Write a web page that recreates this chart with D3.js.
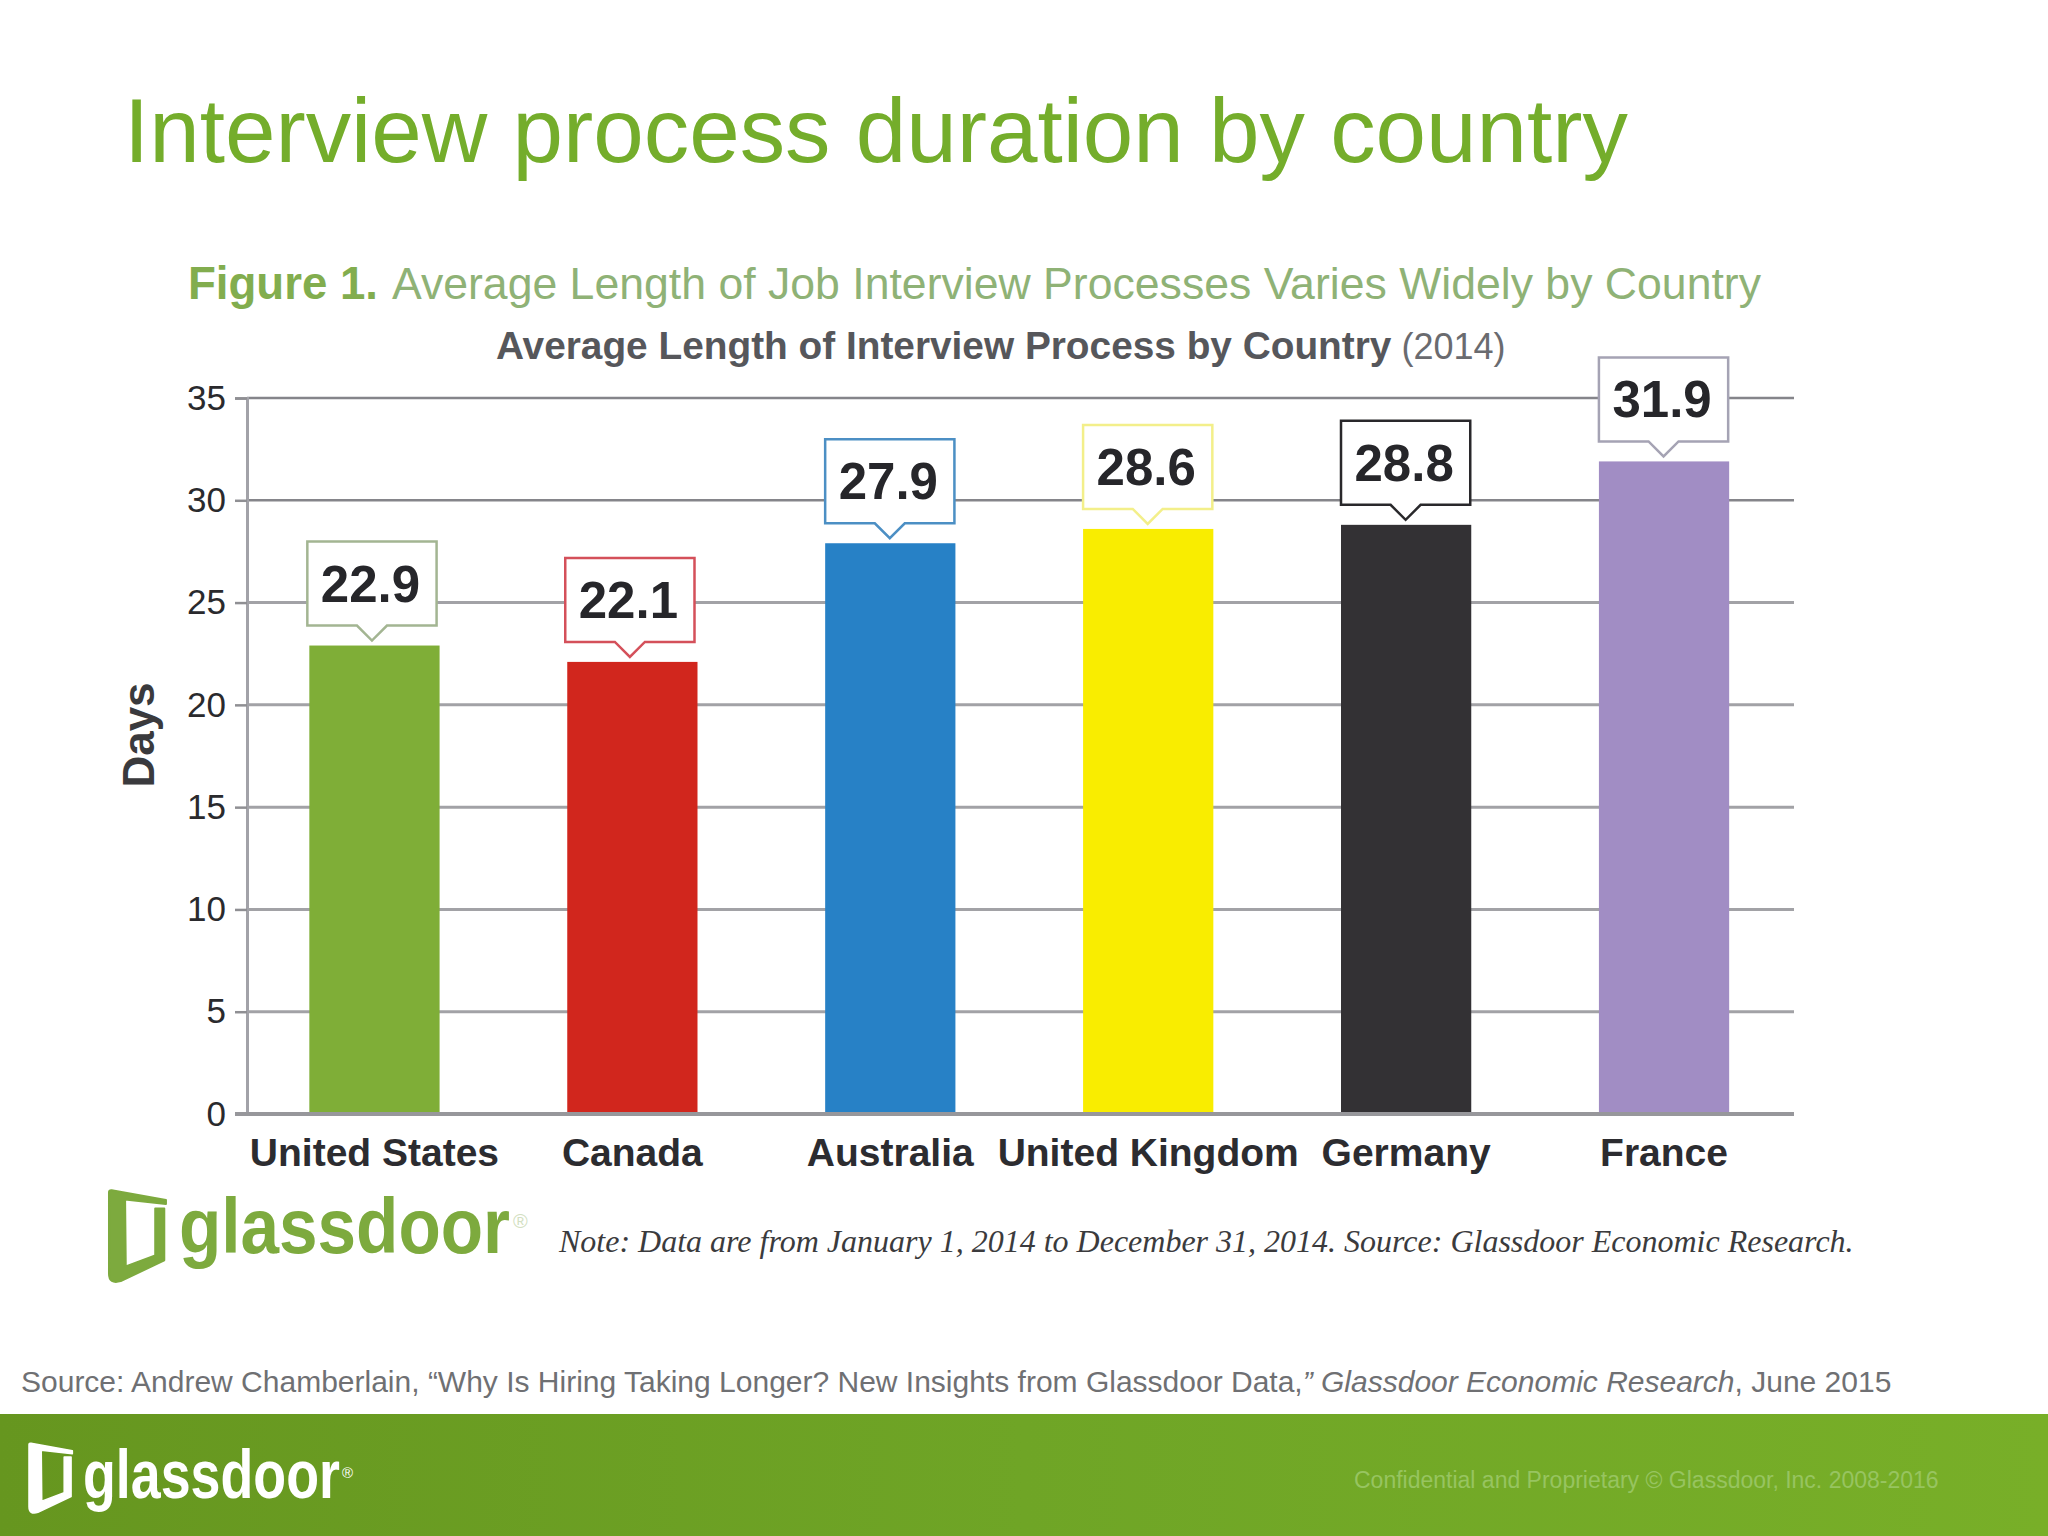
<!DOCTYPE html>
<html>
<head>
<meta charset="utf-8">
<title>Interview process duration by country</title>
<script src="https://cdn.jsdelivr.net/npm/d3@7"></script>
<style>
  html, body { margin: 0; padding: 0; background: #fff; }
  svg { display: block; }
  text { font-family: "Liberation Sans", Arial, sans-serif; }
</style>
</head>
<body>
<svg id="chart" width="2048" height="1536"></svg>
<script>
// chart values
const countries = ["United States", "Canada", "Australia", "United Kingdom", "Germany", "France"];
const days = [22.9, 22.1, 27.9, 28.6, 28.8, 31.9];
const barColors = ["#7fae37", "#d1261d", "#2781c6", "#f9ed00", "#333134", "#a18dc4"];
const calloutColors = ["#a3b592", "#d4505a", "#4c8fc4", "#f3ef8a", "#29282b", "#a5a3b4"];
const yTicks = [0, 5, 10, 15, 20, 25, 30, 35];

const svg = d3.select("#chart");

const x = d3.scaleBand()
  .domain(countries)
  .range([245.5, 1793])
  .paddingInner(0.495)
  .paddingOuter(0.2475);

const y = d3.scaleLinear().domain([0, 35]).range([1114, 398]);

const axisX = 247, axisRight = 1794;

// footer band
const grad = svg.append("defs").append("linearGradient").attr("id", "footerGrad");
grad.append("stop").attr("offset", "0").attr("stop-color", "#66961f");
grad.append("stop").attr("offset", "0.5").attr("stop-color", "#6fa526");
grad.append("stop").attr("offset", "1").attr("stop-color", "#78af28");

svg.append("rect")
  .attr("y", 1414).attr("width", 2048).attr("height", 122)
  .attr("fill", "url(#footerGrad)");

// headings
svg.append("text")
  .attr("x", 124).attr("y", 162)
  .attr("font-size", 90.8).attr("fill", "#74ad2b")
  .text("Interview process duration by country");

const figTitle = svg.append("text")
  .attr("x", 188).attr("y", 299)
  .attr("fill", "#8fb276");
figTitle.append("tspan").attr("font-size", 45.6).attr("font-weight", "bold").attr("fill", "#82ad4e").text("Figure 1.");
figTitle.append("tspan").attr("font-size", 44.6).attr("dx", 4).text(" Average Length of Job Interview Processes Varies Widely by Country");

const subTitle = svg.append("text")
  .attr("x", 496).attr("y", 359)
  .attr("fill", "#56575b");
subTitle.append("tspan").attr("font-size", 38.8).attr("font-weight", "bold").text("Average Length of Interview Process by Country");
subTitle.append("tspan").attr("font-size", 36).attr("fill", "#6a6b6f").text(" (2014)");

// gridlines
svg.append("g").selectAll("line")
  .data(yTicks.filter(d => d > 0))
  .join("line")
  .attr("x1", axisX).attr("x2", axisRight)
  .attr("y1", d => y(d)).attr("y2", d => y(d))
  .attr("stroke", d => d >= 30 ? "#85858a" : "#a2a2a6")
  .attr("stroke-width", d => d >= 30 ? 2.5 : 3);

// y axis
const gy = svg.append("g")
  .attr("transform", `translate(${axisX},0)`)
  .call(d3.axisLeft(y).tickValues(yTicks).tickSize(12).tickPadding(9));
gy.selectAll("text")
  .attr("font-size", 35).attr("fill", "#2a2a2d")
  .style("font-family", "'Liberation Sans', Arial, sans-serif");
gy.selectAll("line").attr("stroke", "#8f8f93").attr("stroke-width", 2.5);
gy.select(".domain").attr("stroke", "#a2a2a8").attr("stroke-width", 3);

svg.append("text")
  .attr("transform", "translate(154,735) rotate(-90)")
  .attr("text-anchor", "middle")
  .attr("font-size", 44).attr("font-weight", "bold").attr("fill", "#3a3a3d")
  .text("Days");

// bars
svg.append("g").selectAll("rect")
  .data(days)
  .join("rect")
  .attr("x", (d, i) => x(countries[i]))
  .attr("y", d => y(d))
  .attr("width", x.bandwidth())
  .attr("height", d => y(0) - y(d))
  .attr("fill", (d, i) => barColors[i]);

// baseline
svg.append("line")
  .attr("x1", axisX - 12).attr("x2", axisRight)
  .attr("y1", y(0)).attr("y2", y(0))
  .attr("stroke", "#97979b").attr("stroke-width", 4);

// x labels
svg.append("g").selectAll("text")
  .data(countries)
  .join("text")
  .attr("x", d => x(d) + x.bandwidth() / 2)
  .attr("y", 1166)
  .attr("text-anchor", "middle")
  .attr("font-size", 39).attr("font-weight", "bold").attr("fill", "#2c2c30")
  .text(d => d);

// value callouts above each bar
const calloutGap = 20, calloutH = 84, pointer = 15;
const callouts = svg.append("g").selectAll("g")
  .data(days)
  .join("g")
  .attr("transform", (d, i) => `translate(${x(countries[i]) + (i < 2 ? -2 : 0)},${y(d) - calloutGap})`);

callouts.append("path")
  .attr("d", () => {
    const w = x.bandwidth() - 1, mid = w / 2;
    return `M0,0 V${-calloutH} H${w} V0 H${mid + pointer} L${mid},${pointer} L${mid - pointer},0 Z`;
  })
  .attr("fill", "#fff")
  .attr("stroke", (d, i) => calloutColors[i])
  .attr("stroke-width", 2.5);

callouts.append("text")
  .attr("x", x.bandwidth() / 2 - 2)
  .attr("y", -24)
  .attr("text-anchor", "middle")
  .attr("font-size", 51).attr("font-weight", "bold").attr("fill", "#26262a")
  .text(d => d.toFixed(1));

// door icon, drawn in a 170 x 275 box
const doorPath = "M0,6 Q0,0 8,1 L170,30 L170,42 L48,28 L50,228 L138,195 L138,55 L165,55 L165,210 L35,272 Q0,282 0,250 Z";

function logo(dx, dy, doorScale, textX, baseline, size, width, color, regColor, regX, regY, regSize) {
  svg.append("path")
    .attr("d", doorPath)
    .attr("transform", `translate(${dx},${dy}) scale(${doorScale})`)
    .attr("fill", color)
    .attr("stroke", color).attr("stroke-width", 6).attr("stroke-linejoin", "round");
  // no narrow font installed, so squeeze the bold face to the logo's width
  const word = svg.append("text")
    .attr("font-size", size).attr("font-weight", "bold").attr("fill", color)
    .text("glassdoor");
  const squeeze = width / word.node().getComputedTextLength();
  word.attr("transform", `translate(${textX},${baseline}) scale(${squeeze},1)`);
  svg.append("text")
    .attr("x", regX).attr("y", regY)
    .attr("font-size", regSize).attr("fill", regColor)
    .text("®");
}

logo(109, 1190, 0.335, 179, 1253, 78, 331, "#7daa3e", "#d3dfc2", 513, 1228, 20);
logo(29, 1443, 0.255, 83, 1498, 68, 257, "#ffffff", "#ffffff", 342, 1478, 15);

// note and source lines
svg.append("text")
  .attr("x", 559).attr("y", 1252)
  .attr("font-size", 32).attr("font-style", "italic").attr("fill", "#3b3b3d")
  .style("font-family", "'Liberation Serif', serif")
  .text("Note: Data are from January 1, 2014 to December 31, 2014. Source: Glassdoor Economic Research.");

const source = svg.append("text")
  .attr("x", 21).attr("y", 1392)
  .attr("font-size", 30).attr("fill", "#6f7073");
source.append("tspan").text("Source: Andrew Chamberlain, “Why Is Hiring Taking Longer? New Insights from Glassdoor Data,");
source.append("tspan").attr("font-style", "italic").text("” Glassdoor Economic Research");
source.append("tspan").text(", June 2015");

svg.append("text")
  .attr("x", 1354).attr("y", 1488)
  .attr("font-size", 23).attr("fill", "#97c460")
  .text("Confidential and Proprietary © Glassdoor, Inc. 2008-2016");
</script>
</body>
</html>
